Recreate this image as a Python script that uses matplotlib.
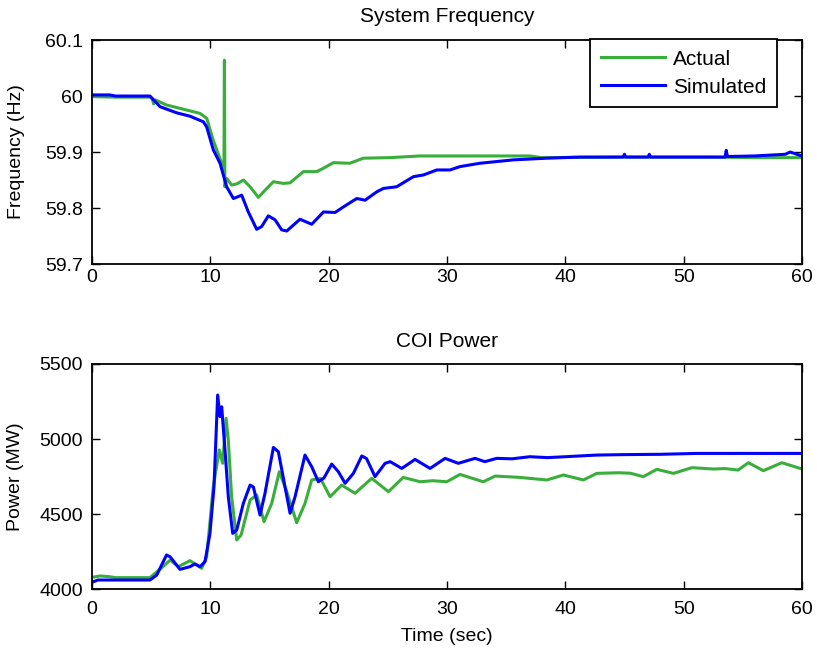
import matplotlib
matplotlib.use("Agg")
import matplotlib.pyplot as plt

plt.rcParams['font.family'] = ['Liberation Sans', 'DejaVu Sans']

# ---- System Frequency data ----
t_freq_act = [0, 2, 4.9, 5.1, 5.2, 5.35, 6.3, 8.0, 9.13, 9.7, 10.25, 10.96, 11.15, 11.19, 11.23,
              11.38, 11.8, 12.23, 12.8, 13.36, 14.06, 14.77, 15.33, 16.17, 16.74, 17.86, 18.99,
              19.55, 20.4, 21.8, 22.93, 25.2, 27.7, 37.0, 38.0, 45.0, 52.0, 56.0, 60.0]
f_act = [59.999, 59.998, 59.998, 59.995, 59.986, 59.993, 59.984, 59.975, 59.969, 59.960, 59.921,
         59.880, 59.862, 60.064, 59.838, 59.853, 59.841, 59.843, 59.850, 59.838, 59.819, 59.835,
         59.847, 59.844, 59.845, 59.865, 59.865, 59.871, 59.881, 59.880, 59.889, 59.890, 59.893,
         59.893, 59.890, 59.891, 59.891, 59.890, 59.890]

t_freq_sim = [0, 1.5, 2.0, 4.9, 5.75, 7.16, 8.28, 9.41, 9.69, 10.25, 10.82, 11.38, 11.95, 12.65,
              13.21, 13.92, 14.34, 14.9, 15.47, 16.03, 16.46, 17.58, 18.57, 19.56, 20.54, 21.25,
              22.37, 23.08, 24.07, 24.63, 25.75, 27.16, 28.0, 29.14, 30.26, 31.1, 32.8, 34.2,
              35.6, 38.4, 41.25, 44.9, 45.0, 45.1, 47.0, 47.1, 47.2, 50.0, 53.5, 53.6, 53.7,
              56.0, 58.6, 59.0, 60.0]
f_sim = [60.002, 60.002, 60.000, 60.000, 59.981, 59.970, 59.964, 59.954, 59.945, 59.904, 59.880,
         59.838, 59.817, 59.823, 59.793, 59.762, 59.767, 59.786, 59.779, 59.761, 59.759, 59.780,
         59.771, 59.793, 59.792, 59.802, 59.817, 59.814, 59.829, 59.835, 59.838, 59.856, 59.859,
         59.868, 59.868, 59.874, 59.880, 59.883, 59.886, 59.889, 59.891, 59.891, 59.896, 59.891,
         59.891, 59.896, 59.891, 59.891, 59.891, 59.903, 59.892, 59.893, 59.896, 59.900, 59.893]

# ---- COI Power data ----
t_pow_act = [0, 0.68, 1.5, 2.0, 4.9, 6.0, 6.6, 7.3, 8.28, 9.27, 9.69, 10.25, 10.76, 11.04, 11.33,
             11.52, 11.8, 12.23, 12.6, 13.36, 13.92, 14.54, 15.19, 15.83, 16.46, 17.3, 18.0,
             18.57, 19.3, 20.12, 21.1, 22.23, 23.64, 25.05, 26.3, 27.73, 28.8, 29.98, 31.1,
             33.07, 34.07, 36.0, 38.44, 39.84, 41.53, 42.66, 44.5, 45.5, 46.6, 47.73, 49.14,
             50.7, 52.5, 53.5, 54.6, 55.47, 56.74, 58.3, 59.85, 60.0]
p_act = [4078, 4087, 4082, 4076, 4076, 4149, 4193, 4149, 4189, 4138, 4215, 4682, 4927, 4838, 5138,
         4993, 4615, 4327, 4360, 4593, 4627, 4449, 4571, 4782, 4649, 4442, 4571, 4727, 4738,
         4615, 4693, 4638, 4738, 4649, 4744, 4715, 4722, 4715, 4764, 4715, 4753, 4745, 4727,
         4760, 4727, 4771, 4775, 4772, 4749, 4798, 4771, 4809, 4800, 4803, 4793, 4842, 4789,
         4842, 4804, 4800]

t_pow_sim = [0, 0.5, 2.0, 4.9, 5.47, 6.3, 6.6, 7.44, 8.28, 8.7, 9.13, 9.55, 9.97, 10.31, 10.62,
             10.82, 10.96, 11.24, 11.52, 11.89, 12.23, 12.79, 13.36, 13.64, 14.2, 14.62, 15.33,
             15.75, 16.31, 16.74, 17.16, 18.0, 18.57, 19.13, 19.6, 20.26, 20.82, 21.39, 22.09,
             22.8, 23.2, 23.92, 24.77, 25.2, 26.18, 27.3, 28.57, 29.84, 30.96, 32.37, 33.2, 34.2,
             35.5, 37.0, 38.5, 40.0, 42.66, 45.0, 48.0, 51.1, 55.0, 60.0]
p_sim = [4045, 4060, 4060, 4060, 4093, 4227, 4215, 4131, 4149, 4167, 4149, 4182, 4371, 4682, 5293,
         5149, 5215, 4927, 4615, 4371, 4393, 4571, 4693, 4680, 4493, 4638, 4944, 4915, 4682,
         4505, 4615, 4893, 4815, 4715, 4740, 4833, 4782, 4705, 4771, 4887, 4870, 4749, 4838,
         4849, 4804, 4864, 4804, 4871, 4838, 4871, 4849, 4871, 4868, 4882, 4876, 4882, 4893,
         4896, 4898, 4904, 4904, 4904]

green = '#3aae3a'
blue = '#0000ff'

fig = plt.figure(figsize=(8.17, 6.5), dpi=100)
ax1 = fig.add_axes([0.1126, 0.5938, 0.869, 0.3446])
ax2 = fig.add_axes([0.1126, 0.0938, 0.869, 0.3462])

ax1.plot(t_freq_act, f_act, color=green, lw=2.2, label='Actual')
ax1.plot(t_freq_sim, f_sim, color=blue, lw=2.2, label='Simulated')
ax1.set_xlim(0, 60)
ax1.set_ylim(59.7, 60.1)
ax1.set_yticks([59.7, 59.8, 59.9, 60.0, 60.1])
ax1.set_yticklabels(['59.7', '59.8', '59.9', '60', '60.1'])
ax1.set_xticks([0, 10, 20, 30, 40, 50, 60])
ax1.set_title('System Frequency', fontsize=15, pad=13)
ax1.set_ylabel('Frequency (Hz)', fontsize=14)
ax1.yaxis.set_label_coords(-0.094, 0.5)
leg = ax1.legend(loc='upper right', fontsize=15, frameon=True, fancybox=False,
                 edgecolor='black', framealpha=1, borderaxespad=0.0,
                 bbox_to_anchor=(0.965, 1.003), handlelength=3.1, borderpad=0.5,
                 labelspacing=0.42, handletextpad=0.4)
leg.get_frame().set_linewidth(1.3)

ax2.plot(t_pow_act, p_act, color=green, lw=2.2)
ax2.plot(t_pow_sim, p_sim, color=blue, lw=2.2)
ax2.set_xlim(0, 60)
ax2.set_ylim(4000, 5500)
ax2.set_yticks([4000, 4500, 5000, 5500])
ax2.set_xticks([0, 10, 20, 30, 40, 50, 60])
ax2.set_title('COI Power', fontsize=15, pad=12)
ax2.set_ylabel('Power (MW)', fontsize=14)
ax2.yaxis.set_label_coords(-0.096, 0.5)
ax2.set_xlabel('Time (sec)', fontsize=14, labelpad=7)

for ax in (ax1, ax2):
    ax.tick_params(direction='in', top=True, right=True, labelsize=14, length=6, width=1)
    ax.tick_params(axis='y', pad=6.5)
    for s in ax.spines.values():
        s.set_linewidth(1.3)
ax1.tick_params(axis='x', pad=3.5)
ax2.tick_params(axis='x', pad=8.5)

fig.savefig('out.png', dpi=100)
